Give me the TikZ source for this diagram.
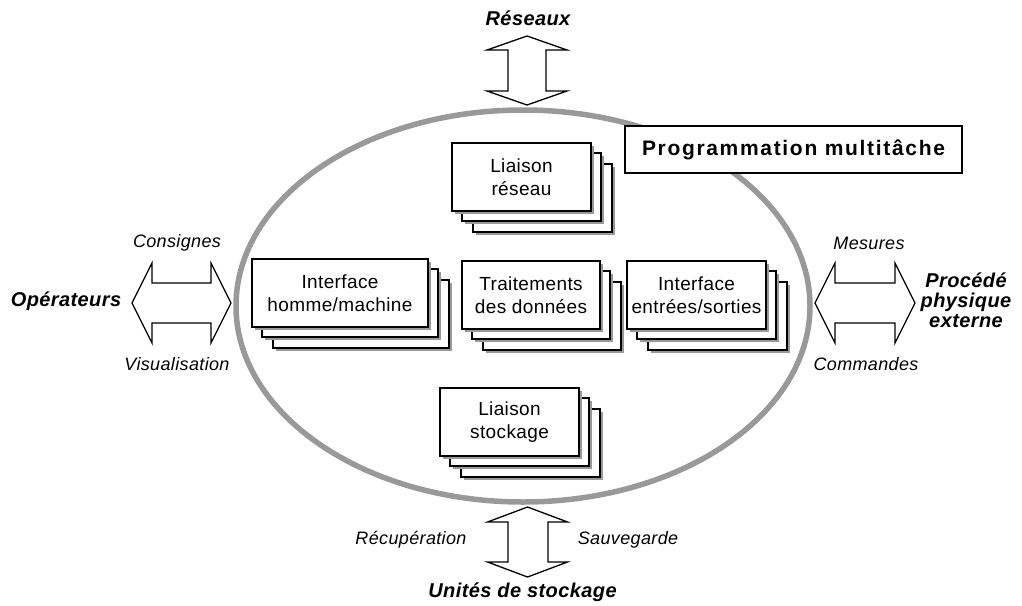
\documentclass[tikz,border=0pt]{standalone}
\usepackage{fontspec}
\setmainfont{Liberation Sans}[LetterSpace=2]
\usetikzlibrary{shadows}

\tikzset{
	carte/.style={draw, line width=1.6pt, fill=white, minimum width=139pt, minimum height=68pt,
		align=center, font=\fontsize{19}{23}\selectfont,
		drop shadow={shadow xshift=3pt, shadow yshift=-3pt, fill=black!40, opacity=1}},
	fleche/.style={draw, line width=1.3pt, fill=white, line join=miter},
	flux/.style={font=\itshape\fontsize{18}{20}\selectfont},
	acteur/.style={font=\bfseries\itshape\fontsize{20}{20}\selectfont, align=center}
}

% pile de trois taches : nom, x, y, largeur, texte
\newcommand{\pile}[5]{%
	\node[carte, minimum width=#4pt] (#1-3) at (#2+21,#3+21) {};
	\node[carte, minimum width=#4pt] (#1-2) at (#2+10,#3+10) {};
	\node[carte, minimum width=#4pt] (#1) at (#2,#3) {#5};
}

\begin{document}
\begin{tikzpicture}[x=1pt, y=-1pt]
	\useasboundingbox (0,0) rectangle (1022,605);

	%ellipse
	\draw[line width=5.5pt, black!40] (523,306) ellipse [x radius=287, y radius=196];

	%titre
	\node[draw, line width=1.3pt, fill=white, minimum width=337pt, minimum height=47pt,
		font=\bfseries\addfontfeatures{LetterSpace=8}\fontsize{21}{25}\selectfont]
		(titre) at (793.5,149.5) {Programmation multitâche};

	%taches
	\pile{reseau}{521.5}{177}{139}{Liaison\\réseau}
	\pile{ihm}{340}{293}{176}{Interface\\homme/machine}
	\pile{traitement}{531}{295}{138}{Traitements\\des données}
	\pile{es}{696.5}{295}{139}{Interface\\entrées/sorties}
	\pile{stockage}{509.5}{422}{139}{Liaison\\stockage}

	%fleches doubles
	\draw[fleche] (527,36) -- (567,50) -- (546,50) -- (546,91) -- (567,91) -- (527,105)
		-- (487,91) -- (508,91) -- (508,50) -- (487,50) -- cycle;
	\draw[fleche] (527.5,507) -- (567.5,522) -- (548,522) -- (548,562) -- (567.5,562) -- (527.5,577)
		-- (487.5,562) -- (508,562) -- (508,522) -- (487.5,522) -- cycle;
	\draw[fleche] (132,303) -- (152,263) -- (152,283) -- (211,283) -- (211,263) -- (231,303)
		-- (211,343) -- (211,323) -- (152,323) -- (152,343) -- cycle;
	\draw[fleche] (815,303) -- (835,263) -- (835,283) -- (895,283) -- (895,263) -- (915,303)
		-- (895,343) -- (895,323) -- (835,323) -- (835,343) -- cycle;

	%acteurs
	\node[acteur] (reseaux) at (528,18) {Réseaux};
	\node[acteur] (operateurs) at (66,301) {Opérateurs};
	\node[acteur] (procede) at (966,300) {Procédé\\physique\\externe};
	\node[acteur] (unites) at (522.5,592) {Unités de stockage};

	%flux
	\node[flux] (consignes) at (177,243) {Consignes};
	\node[flux] (visu) at (177,364) {Visualisation};
	\node[flux] (mesures) at (869,243) {Mesures};
	\node[flux] (commandes) at (866,364) {Commandes};
	\node[flux] (recup) at (411,540) {Récupération};
	\node[flux] (sauve) at (628,540) {Sauvegarde};
\end{tikzpicture}
\end{document}
